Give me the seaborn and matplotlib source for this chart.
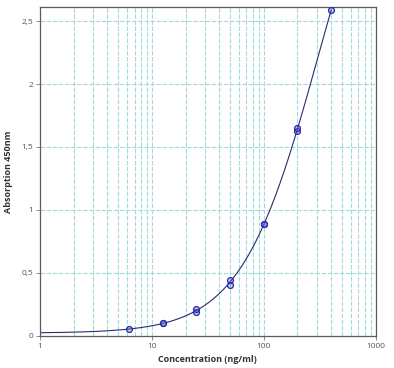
import numpy as np
import pandas as pd
import matplotlib
matplotlib.use("Agg")
import matplotlib.pyplot as plt
import seaborn as sns
from matplotlib.ticker import FixedLocator, FuncFormatter, NullLocator

# standard curve readings (duplicates)
conc = [6.25, 12.5, 12.5, 25, 25, 50, 50, 100, 100, 200, 200, 400]
absorb = [0.05, 0.10, 0.10, 0.19, 0.21, 0.40, 0.44, 0.89, 0.89, 1.63, 1.65, 2.59]
x_ticks = [1, 10, 100, 1000]
y_ticks = [0, 0.5, 1, 1.5, 2, 2.5]


# four parameter logistic model
def four_pl(x, p):
    a, b, logc, d = p
    return d + (a - d) / (1 + (x / np.exp(logc)) ** b)


# simple damped gauss-newton fit of the 4PL to the standards
def fit_four_pl(x, y):
    p = np.array([0.02, 1.2, np.log(300.0), 5.0])
    lam = 1e-2
    err = np.sum((four_pl(x, p) - y) ** 2)
    for _ in range(500):
        r = four_pl(x, p) - y
        J = np.zeros((len(x), len(p)))
        for k in range(len(p)):
            dp = np.zeros(len(p))
            dp[k] = 1e-6
            J[:, k] = (four_pl(x, p + dp) - four_pl(x, p - dp)) / 2e-6
        A = J.T @ J
        step = np.linalg.solve(A + lam * np.diag(np.diag(A)), -J.T @ r)
        p_new = p + step
        err_new = np.sum((four_pl(x, p_new) - y) ** 2)
        if np.isfinite(err_new) and err_new < err:
            p, err, lam = p_new, err_new, lam * 0.5
        else:
            lam *= 4
    return p


df = pd.DataFrame({"conc": conc, "absorb": absorb})
params = fit_four_pl(df["conc"].to_numpy(float), df["absorb"].to_numpy(float))
fit_x = np.logspace(0, np.log10(400), 300)
fit_df = pd.DataFrame({"conc": fit_x, "absorb": four_pl(fit_x, params)})

sns.set_style("white")
plt.rcParams["font.family"] = ["Open Sans", "DejaVu Sans"]

fig = plt.figure(figsize=(3.94, 3.68), dpi=100)
ax = fig.add_axes([0.1015, 0.088, 0.852, 0.892])

sns.lineplot(data=fit_df, x="conc", y="absorb", ax=ax, color="#2b2b70", linewidth=0.8)
sns.scatterplot(data=df, x="conc", y="absorb", ax=ax, s=18, marker="o",
                facecolor=(0.35, 0.35, 0.85, 0.35), edgecolor="#2a2aa8", linewidth=0.9, zorder=3)

ax.set_xscale("log")
ax.set_xlim(1, 1000)
ax.set_ylim(0, 2.61)

ax.xaxis.set_major_locator(FixedLocator(x_ticks))
ax.xaxis.set_minor_locator(NullLocator())
ax.xaxis.set_major_formatter(FuncFormatter(lambda v, pos: f"{v:g}"))
ax.yaxis.set_major_locator(FixedLocator(y_ticks))
ax.yaxis.set_major_formatter(FuncFormatter(lambda v, pos: f"{v:g}".replace(".", ",")))

# dashed grid on every decade subdivision
grid_kw = dict(color="#a3dada", linestyle=(0, (4, 1.5)), linewidth=0.8, zorder=0)
for dec in [1, 10, 100]:
    for m in range(2, 10):
        ax.axvline(dec * m, **grid_kw)
for xv in x_ticks[1:-1]:
    ax.axvline(xv, **grid_kw)
for yv in y_ticks[1:]:
    ax.axhline(yv, **grid_kw)

for side in ["left", "right", "top", "bottom"]:
    ax.spines[side].set_color("#5a5a5a")
    ax.spines[side].set_linewidth(0.9)

ax.tick_params(axis="both", which="major", direction="out", length=3, width=0.6,
               color="#777777", labelsize=6, labelcolor="#555555", pad=2,
               bottom=True, left=True)

ax.set_xlabel("Concentration (ng/ml)", fontsize=6.5, fontweight="bold", color="#333333", labelpad=4)
ax.set_ylabel("Absorption 450nm", fontsize=6.5, fontweight="bold", color="#333333", labelpad=6)

fig.savefig("out.png", dpi=100, facecolor="white")
plt.close(fig)
